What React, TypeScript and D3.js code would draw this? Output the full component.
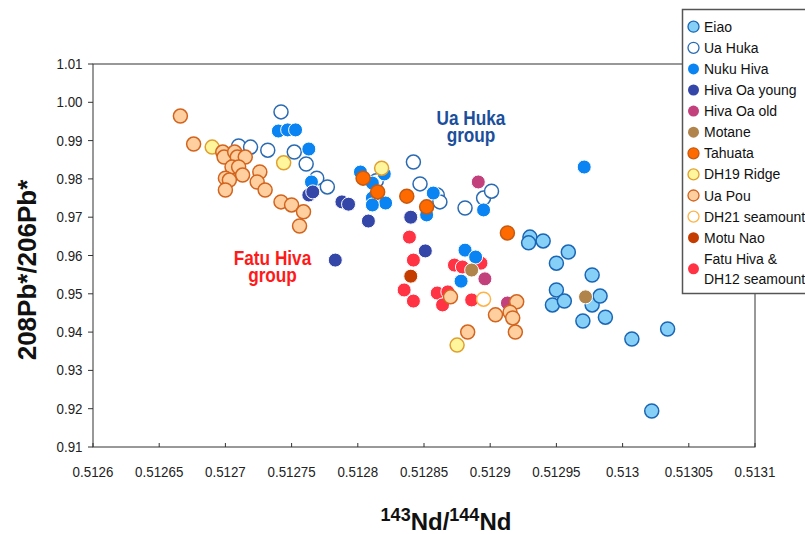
import React from "react";
import * as d3 from "d3";

type P = [number, number];

const eiao: P[] = [[0.51293,0.9648],[0.512929,0.9633],[0.51294,0.9638],[0.51295,0.958],[0.512959,0.9609],[0.512977,0.9549],[0.51295,0.951],[0.512947,0.9471],[0.512956,0.9481],[0.512977,0.9471],[0.512983,0.9494],[0.51297,0.9429],[0.512987,0.9439],[0.513007,0.9382],[0.513034,0.9408],[0.513022,0.9194]];
const uaHuka: P[] = [[0.512742,0.9975],[0.51271,0.9886],[0.512719,0.9883],[0.512732,0.9875],[0.512752,0.987],[0.512761,0.9839],[0.512769,0.9802],[0.512777,0.9779],[0.512814,0.9795],[0.512842,0.9844],[0.512847,0.9787],[0.51286,0.9758],[0.512862,0.974],[0.512881,0.9724],[0.512895,0.975],[0.512901,0.9768]];
const nukuHiva: P[] = [[0.51274,0.9925],[0.512747,0.9928],[0.512753,0.9928],[0.512763,0.9878],[0.512765,0.9792],[0.512802,0.9818],[0.512811,0.9789],[0.51282,0.9813],[0.512811,0.975],[0.512821,0.9737],[0.512811,0.9732],[0.512857,0.9763],[0.512852,0.9706],[0.512881,0.9614],[0.512889,0.9596],[0.512878,0.9533],[0.512895,0.9719],[0.512971,0.9831]];
const hivaOaYoung: P[] = [[0.512763,0.9758],[0.512766,0.9766],[0.512788,0.974],[0.512793,0.9734],[0.512808,0.969],[0.512783,0.9588],[0.51284,0.97],[0.512851,0.9612]];
const hivaOaOld: P[] = [[0.512891,0.9792],[0.512896,0.9539],[0.512913,0.9476]];
const motane: P[] = [[0.512886,0.9562],[0.512972,0.9492]];
const tahuata: P[] = [[0.512804,0.9802],[0.512815,0.9766],[0.512837,0.9755],[0.512852,0.9727],[0.512913,0.9659]];
const dh19: P[] = [[0.51269,0.9883],[0.512744,0.9842],[0.512818,0.9828],[0.512875,0.9366]];
const uaPou: P[] = [[0.512666,0.9964],[0.512676,0.9891],[0.512698,0.987],[0.512699,0.9857],[0.512707,0.987],[0.512709,0.9857],[0.512715,0.9857],[0.512705,0.9831],[0.51271,0.9831],[0.512713,0.981],[0.5127,0.9802],[0.512703,0.9797],[0.5127,0.9771],[0.512726,0.9818],[0.512724,0.9792],[0.51273,0.9771],[0.512742,0.974],[0.51275,0.9732],[0.512759,0.9714],[0.512756,0.9677],[0.51287,0.9492],[0.512904,0.9445],[0.512883,0.94],[0.51292,0.9479],[0.512915,0.9452],[0.512917,0.9437],[0.512919,0.94]];
const dh21: P[] = [[0.512895,0.9486]];
const motuNao: P[] = [[0.51284,0.9546]];
const fatuHiva: P[] = [[0.512839,0.9648],[0.512842,0.9588],[0.512835,0.951],[0.512842,0.9481],[0.51286,0.9502],[0.512868,0.9505],[0.512864,0.9471],[0.512886,0.9484],[0.512873,0.9575],[0.512879,0.957],[0.512893,0.958]];

const xTickValues = [0.5126,0.51265,0.5127,0.51275,0.5128,0.51285,0.5129,0.51295,0.513,0.51305,0.5131];
const xTickLabels = ["0.5126","0.51265","0.5127","0.51275","0.5128","0.51285","0.5129","0.51295","0.513","0.51305","0.5131"];
const yTickValues = [0.91,0.92,0.93,0.94,0.95,0.96,0.97,0.98,0.99,1.0,1.01];
const yTickLabels = ["0.91","0.92","0.93","0.94","0.95","0.96","0.97","0.98","0.99","1.00","1.01"];

type S = { name: string[]; data: P[]; fill: string; stroke: string; sw: number };

const legendSeries: S[] = [
  { name: ["Eiao"], data: eiao, fill: "#86D0F8", stroke: "#1A66B4", sw: 1.5 },
  { name: ["Ua Huka"], data: uaHuka, fill: "#FFFFFF", stroke: "#2A6AB2", sw: 1.5 },
  { name: ["Nuku Hiva"], data: nukuHiva, fill: "#0B84F3", stroke: "#FFFFFF", sw: 1 },
  { name: ["Hiva Oa young"], data: hivaOaYoung, fill: "#3446A8", stroke: "#FFFFFF", sw: 1 },
  { name: ["Hiva Oa old"], data: hivaOaOld, fill: "#C2417C", stroke: "#FFFFFF", sw: 1 },
  { name: ["Motane"], data: motane, fill: "#B0844A", stroke: "#FFFFFF", sw: 1 },
  { name: ["Tahuata"], data: tahuata, fill: "#FF6A00", stroke: "#C65A10", sw: 1.5 },
  { name: ["DH19 Ridge"], data: dh19, fill: "#FFF59D", stroke: "#E0A030", sw: 1.5 },
  { name: ["Ua Pou"], data: uaPou, fill: "#FFCFA0", stroke: "#D2641E", sw: 1.5 },
  { name: ["DH21 seamount"], data: dh21, fill: "#FFFFFF", stroke: "#FFB347", sw: 1.5 },
  { name: ["Motu Nao"], data: motuNao, fill: "#C43C00", stroke: "#FFFFFF", sw: 1 },
  { name: ["Fatu Hiva &", "DH12 seamount"], data: fatuHiva, fill: "#FF3344", stroke: "#FFFFFF", sw: 1 },
];

const groupLabels = [
  { lines: ["Ua Huka", "group"], x: 471, y: 124.5, color: "#1B4F9C" },
  { lines: ["Fatu Hiva", "group"], x: 272.5, y: 264.5, color: "#FF1A1A" },
];

// drawing order (bottom to top)
const drawOrder = ["Eiao", "Ua Huka", "Fatu Hiva &", "Nuku Hiva", "Hiva Oa young", "Hiva Oa old", "Tahuata", "DH19 Ridge", "Ua Pou", "Motane", "DH21 seamount", "Motu Nao"];

const W = 805, H = 534;
const L = 93, R = 755, T = 64, B = 447;

export default function App() {
  const x = d3.scaleLinear().domain([0.5126, 0.5131]).range([L, R]);
  const y = d3.scaleLinear().domain([0.91, 1.01]).range([B, T]);
  const font = "'Liberation Sans', Arial, Helvetica, sans-serif";
  const ordered = drawOrder.map((n) => legendSeries.find((s) => s.name[0] === n)!);
  const legendY = (i: number) => 26.7 + i * 21.1;

  return (
    <svg width={W} height={H} style={{ position: "absolute", left: 0, top: 0, background: "#fff" }} fontFamily={font}>
      <rect x={0} y={0} width={W} height={H} fill="#fff" />
      {/* frame */}
      <rect x={L} y={T} width={R - L} height={B - T} fill="none" stroke="#333" strokeWidth={1} />
      {/* x ticks */}
      {xTickValues.map((v, i) => (
        <g key={"xt" + i}>
          <line x1={x(v)} x2={x(v)} y1={B} y2={B - 4} stroke="#333" />
          <text transform={`translate(${x(v)},${477}) scale(0.92,1)`} textAnchor="middle" fontSize={14.5} fill="#222">
            {xTickLabels[i]}
          </text>
        </g>
      ))}
      {/* y ticks */}
      {yTickValues.map((v, i) => (
        <g key={"yt" + i}>
          <line x1={L - 5} x2={L} y1={y(v)} y2={y(v)} stroke="#333" />
          <text transform={`translate(${82.5},${y(v) + 5}) scale(0.92,1)`} textAnchor="end" fontSize={14.5} fill="#222">
            {yTickLabels[i]}
          </text>
        </g>
      ))}
      {/* points */}
      {ordered.map((s) => (
        <g key={"s" + s.name[0]}>
          {s.data.map((d, j) => (
            <circle key={j} cx={x(d[0])} cy={y(d[1])} r={7} fill={s.fill} stroke={s.stroke} strokeWidth={s.sw} />
          ))}
        </g>
      ))}
      {/* group labels (one text element each, two lines) */}
      {groupLabels.map((g, i) => (
        <text key={"gl" + i} transform={`translate(${g.x},${g.y}) scale(0.84,1)`} fontWeight="bold" fontSize={20.5} textAnchor="middle" fill={g.color}>
          <tspan x={0} y={0}>{g.lines[0]}</tspan>
          <tspan x={0} y={17}>{g.lines[1]}</tspan>
        </text>
      ))}
      {/* axis titles */}
      <text transform={`translate(36,270) rotate(-90)`} textAnchor="middle" fontWeight="bold" fontSize={26} fill="#111">
        208Pb*/206Pb*
      </text>
      <text x={446} y={530} textAnchor="middle" fontWeight="bold" fontSize={24} fill="#111">
        <tspan fontSize={18} dy={-9}>143</tspan>
        <tspan dy={9}>Nd/</tspan>
        <tspan fontSize={18} dy={-9}>144</tspan>
        <tspan dy={9}>Nd</tspan>
      </text>
      {/* legend */}
      <rect x={682.5} y={9.5} width={140} height={284} fill="#fff" stroke="#555" strokeWidth={1.5} />
      {legendSeries.map((s, i) => {
        const cy = s.name.length > 1 ? legendY(i) + 10 : legendY(i);
        return (
          <g key={"lg" + i}>
            <circle cx={693.5} cy={cy} r={5.5} fill={s.fill} stroke={s.stroke === "#FFFFFF" ? "none" : s.stroke} strokeWidth={1.3} />
            <text x={704} y={legendY(i) + 5} fontSize={14} fill="#111">
              {s.name.map((t, k) => (
                <tspan key={k} x={704} y={legendY(i) + 5 + k * 20}>{t}</tspan>
              ))}
            </text>
          </g>
        );
      })}
    </svg>
  );
}
